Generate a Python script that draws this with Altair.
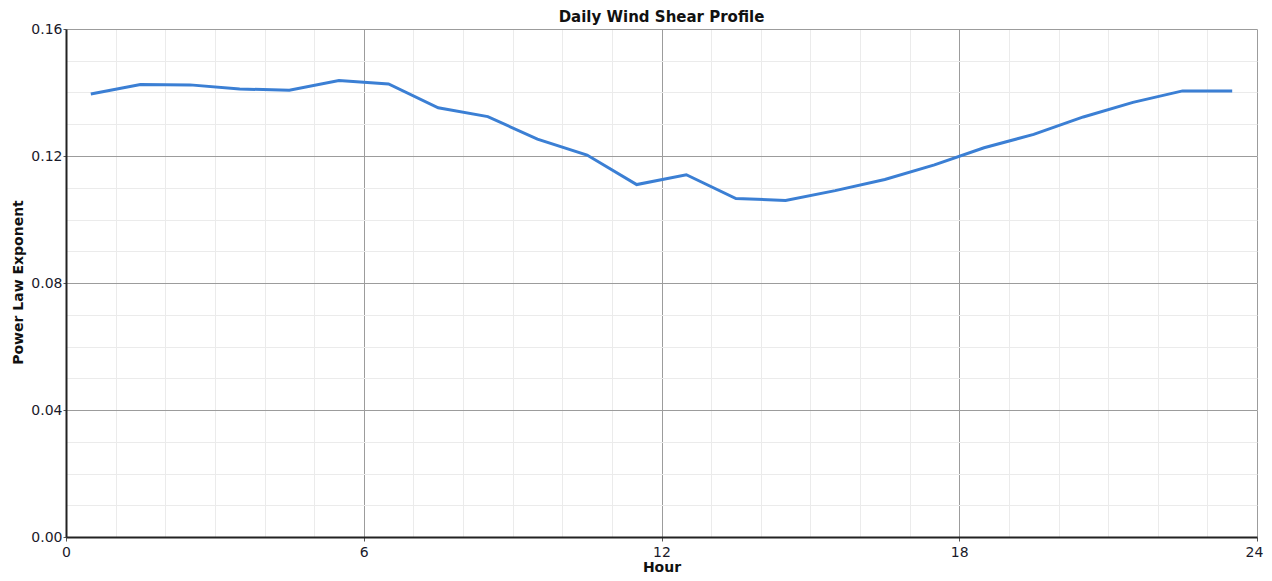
import altair as alt
import pandas as pd

hours = [0.5, 1.5, 2.5, 3.5, 4.5, 5.5, 6.5, 7.5, 8.5, 9.5, 10.5, 11.5,
         12.5, 13.5, 14.5, 15.5, 16.5, 17.5, 18.5, 19.5, 20.5, 21.5, 22.5, 23.5]
exponent = [0.1395, 0.1425, 0.1424, 0.1411, 0.1407, 0.1438, 0.1427, 0.1352,
            0.1324, 0.1253, 0.1203, 0.1110, 0.1141, 0.1066, 0.1060, 0.1091,
            0.1126, 0.1172, 0.1226, 0.1268, 0.1323, 0.1369, 0.1405, 0.1405]
x_major = [0, 6, 12, 18, 24]
x_minor = list(range(0, 25))
y_major = [0.0, 0.04, 0.08, 0.12, 0.16]
y_minor = [i / 100 for i in range(0, 17)]
chart_title = ["Daily Wind Shear Profile"]

df = pd.DataFrame({"hour": hours, "exp": exponent})

FONT = "DejaVu Sans"
xs = alt.Scale(domain=[0, 24], nice=False, zero=False)
ys = alt.Scale(domain=[0, 0.16], nice=False, zero=False)

minor = alt.Chart(df).mark_line(opacity=0).encode(
    x=alt.X("hour:Q", scale=xs,
            axis=alt.Axis(orient="top", values=x_minor, labels=False, ticks=False,
                          domain=False, title=None, grid=True, minExtent=0, maxExtent=0,
                          gridColor="#ebebeb", gridWidth=1)),
    y=alt.Y("exp:Q", scale=ys,
            axis=alt.Axis(orient="right", values=y_minor, labels=False, ticks=False,
                          domain=False, title=None, grid=True, minExtent=0, maxExtent=0,
                          gridColor="#ebebeb", gridWidth=1)),
)

major = alt.Chart(df).mark_line(color="#3b7fd4", strokeWidth=3).encode(
    x=alt.X("hour:Q", scale=xs,
            axis=alt.Axis(orient="bottom", values=x_major, format="d", title="Hour",
                          grid=True, gridColor="#9c9c9c", gridWidth=1,
                          domainColor="#222", domainWidth=2,
                          tickColor="#555", tickSize=4, labelPadding=4,
                          labelFont=FONT, labelFontSize=14, labelColor="#1a1a2a",
                          labelFlush=False,
                          labelOffset={"condition": {"test": "datum.value == 24", "value": -3},
                                       "value": 0},
                          titleFont=FONT, titleFontSize=14, titleFontWeight="bold",
                          titleColor="#111", titleBaseline="middle", titleY=30,
                          titleX=595.5)),
    y=alt.Y("exp:Q", scale=ys,
            axis=alt.Axis(orient="left", values=y_major, format=".2f",
                          title="Power Law Exponent",
                          grid=True, gridColor="#9c9c9c", gridWidth=1,
                          domainColor="#222", domainWidth=2,
                          tickColor="#555", tickSize=3, labelPadding=1,
                          labelFont=FONT, labelFontSize=14, labelColor="#1a1a2a",
                          labelFlush=False,
                          titleFont=FONT, titleFontSize=14, titleFontWeight="bold",
                          titleColor="#111", titleBaseline="middle", titleAngle=-90,
                          titleX=-48, titleY=253)),
)

title_layer = alt.Chart(pd.DataFrame({"t": chart_title})).mark_text(
    font=FONT, fontSize=15, fontWeight="bold", color="#111",
    align="center", baseline="alphabetic",
).encode(text="t:N", x=alt.value(595.5), y=alt.value(-7))

chart = alt.layer(minor, major, title_layer).resolve_axis(
    x="independent", y="independent"
).properties(
    width=1191,
    height=508,
    autosize=alt.AutoSizeParams(type="none"),
    padding={"left": 58, "top": 21, "right": 7, "bottom": 36},
).configure_view(stroke="#222", strokeWidth=2).configure(background="white")

chart.save("out.html", embed_options={"renderer": "svg", "actions": False})
